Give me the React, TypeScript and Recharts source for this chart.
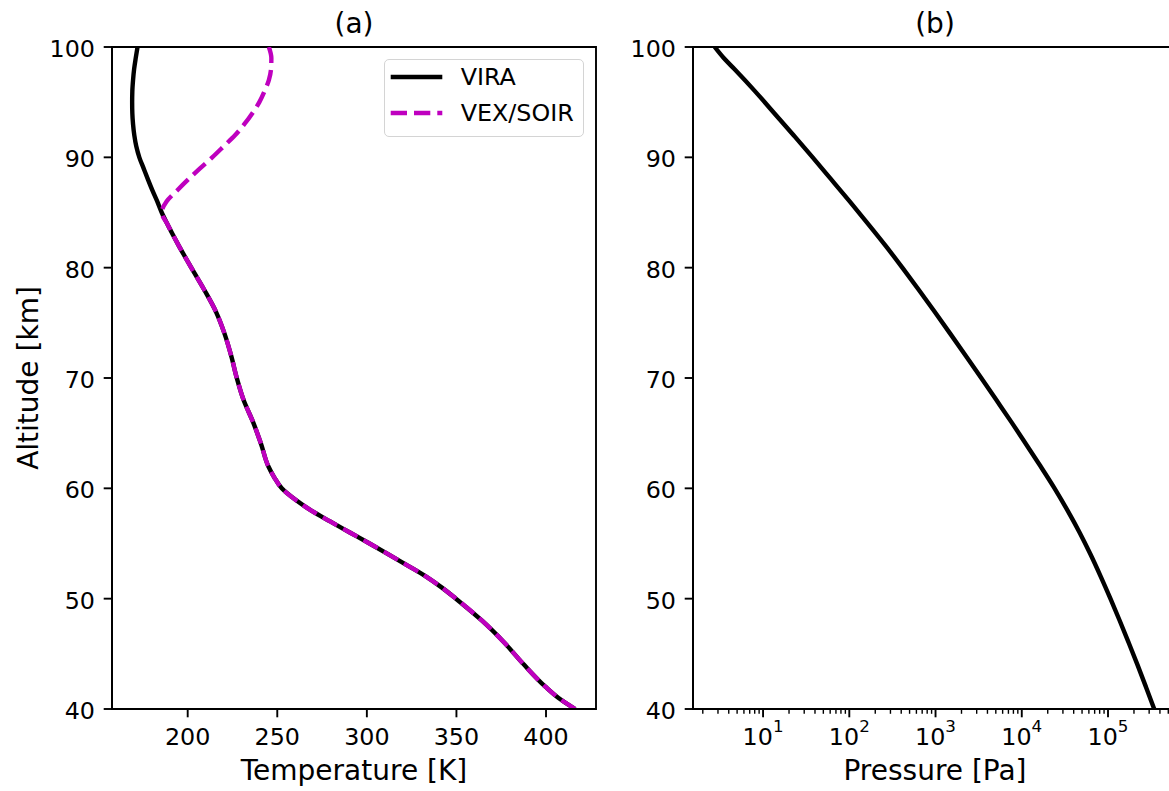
import { LineChart, Line, XAxis, YAxis, ReferenceArea, Legend } from 'recharts'

const FONT = '"DejaVu Sans", "Liberation Sans", sans-serif'
const TICK_FS = 23.8
const LABEL_FS = 28
const SPINE = 1.9
const LINE_W = 4.4
const MAGENTA = '#bf00bf'
const DASH = '16.3 7'

// altitude grid shared by both temperature profiles (km)
const ALT_KM = [
  40, 41, 42, 44, 46, 48, 50, 51, 52, 53, 54, 55, 56, 57, 58, 59, 60, 61, 62, 64, 66, 68, 70,
  72, 74, 76, 78, 80, 82, 84, 85, 86, 87, 88, 89, 90, 91, 92, 93, 94, 95, 96, 97, 98, 99, 100,
]
const VIRA_T = [
  416.3, 407, 399.8, 387.8, 376.8, 364.3, 349.7, 341.9, 333.1, 322.8, 312.3, 301.5, 290.5, 279.5, 268.8, 259.8, 252.5, 248.3, 245, 241, 236.5, 231.2, 227.4,
  224.3, 220.6, 215.8, 209.2, 202, 195, 188.5, 185.5, 183, 180.3, 177.8, 175.4, 173, 171.3, 170.2, 169.5, 169.1, 169, 169.1, 169.5, 170.1, 171, 172,
]
const VEX_T = [
  416.3, 407, 399.8, 387.8, 376.8, 364.3, 349.7, 341.9, 333.1, 322.8, 312.3, 301.5, 290.5, 279.5, 268.8, 259.8, 252.5, 248.3, 245, 241, 236.5, 231.2, 227.4,
  224.3, 220.6, 215.8, 209.2, 202, 195, 188.5, 185.5, 188.2, 194.1, 200.3, 206.9, 213.7, 220.1, 226.4, 231.6, 236.1, 240, 242.9, 245.3, 246.5, 246.7, 245.3,
]

const P_ALT_KM = [
  40, 42, 44, 46, 48, 50, 52, 54, 56, 58, 60, 62, 64, 66, 68, 70,
  72, 74, 76, 78, 80, 82, 84, 86, 88, 90, 92, 94, 96, 98, 99, 100,
]
const PRESSURE_PA = [
  343600, 275400, 219800, 173800, 136800, 106700, 82400, 62800, 46800, 33900, 24000, 16520, 11220, 7590, 5080, 3390,
  2250, 1486, 977, 638, 412, 263, 164, 101, 61.7, 37.6, 22.6, 13.5, 8.04, 4.65, 3.5, 2.75,
]

const ALT_TICKS = [40, 50, 60, 70, 80, 90, 100]
const T_TICKS = [200, 250, 300, 350, 400]
const P_MAJOR_TICKS = [10, 100, 1000, 10000, 100000]
const P_MINOR_TICKS = [
  2, 3, 4, 5, 6, 7, 8, 9,
  20, 30, 40, 50, 60, 70, 80, 90,
  200, 300, 400, 500, 600, 700, 800, 900,
  2000, 3000, 4000, 5000, 6000, 7000, 8000, 9000,
  20000, 30000, 40000, 50000, 60000, 70000, 80000, 90000,
  200000, 300000, 400000, 500000, 600000,
]

const T_DOMAIN: [number, number] = [157.75, 427.9]
const P_DOMAIN: [number, number] = [1.54, 631000]
const ALT_DOMAIN: [number, number] = [40, 100]

const VIRA_ROWS = ALT_KM.map((alt, i) => ({ alt, t: VIRA_T[i] }))
const VEX_ROWS = ALT_KM.map((alt, i) => ({ alt, t: VEX_T[i] }))
const P_ROWS = P_ALT_KM.map((alt, i) => ({ alt, p: PRESSURE_PA[i] }))
const P_TICKS = [...P_MAJOR_TICKS, ...P_MINOR_TICKS].sort((a, b) => a - b)

const LEGEND_ITEMS = [
  { name: 'VIRA', color: '#000', dash: undefined },
  { name: 'VEX/SOIR', color: MAGENTA, dash: DASH },
]

const AXIS_LINE = { stroke: '#000', strokeWidth: SPINE }
const TICK_LINE = { stroke: '#000', strokeWidth: SPINE }
const TEXT_STYLE = { fontFamily: FONT, fill: '#000' }

// eslint-disable-next-line @typescript-eslint/no-explicit-any
const AltTick = ({ x, y, payload }: any) => (
  <text x={x - 8.7} y={y + 10} textAnchor="end" fontSize={TICK_FS} {...TEXT_STYLE}>
    {payload.value}
  </text>
)

// eslint-disable-next-line @typescript-eslint/no-explicit-any
const TempTick = ({ x, y, payload }: any) => (
  <text x={x} y={y + 27.7} textAnchor="middle" fontSize={TICK_FS} {...TEXT_STYLE}>
    {payload.value}
  </text>
)

// log axis: long ticks + 10^n labels on decades, short unlabelled ticks between
// eslint-disable-next-line @typescript-eslint/no-explicit-any
const PressureTick = ({ x, y, payload }: any) => {
  const v = payload.value
  const major = P_MAJOR_TICKS.includes(v)
  return (
    <g>
      <line x1={x} x2={x} y1={y} y2={y + (major ? 8.3 : 4.8)} stroke="#000" strokeWidth={major ? SPINE : 1.4} />
      {major && (
        <text x={x} y={y + 36} textAnchor="middle" fontSize={TICK_FS} {...TEXT_STYLE}>
          10<tspan dy={-13} fontSize={16.7}>{Math.round(Math.log10(v))}</tspan>
        </text>
      )}
    </g>
  )
}

const renderAltitudeLabel = () => (
  <text x={38} y={378} transform="rotate(-90 38 378)" textAnchor="middle" fontSize={LABEL_FS} {...TEXT_STYLE}>
    Altitude [km]
  </text>
)

const LegendBox = () => (
  <div
    style={{
      position: 'relative', width: 200, height: 78, boxSizing: 'border-box',
      border: `${SPINE}px solid #d4d4d4`, borderRadius: 5, background: 'rgba(255,255,255,0.8)',
    }}
  >
    <svg width={200} height={78} style={{ position: 'absolute', left: -SPINE, top: -SPINE }}>
      {LEGEND_ITEMS.map((it, i) => (
        <g key={it.name}>
          <line x1={7.7} x2={59.3} y1={19 + 36 * i} y2={19 + 36 * i} stroke={it.color} strokeWidth={LINE_W} strokeDasharray={it.dash} />
          <text x={77.7} y={27.4 + 36 * i} fontSize={TICK_FS} {...TEXT_STYLE}>{it.name}</text>
        </g>
      ))}
    </svg>
  </div>
)

function TemperaturePanel() {
  return (
    <LineChart width={620} height={791} margin={{ top: 47, right: 24, bottom: 0, left: 0 }}>
      <XAxis
        dataKey="t" type="number" domain={T_DOMAIN} allowDataOverflow ticks={T_TICKS} interval={0}
        tick={TempTick} tickSize={8.3} tickMargin={0} tickLine={TICK_LINE} axisLine={AXIS_LINE} height={82}
        label={{ value: 'Temperature [K]', position: 'insideBottom', offset: 11, fontSize: LABEL_FS, ...TEXT_STYLE }}
      />
      <YAxis
        type="number" domain={ALT_DOMAIN} allowDataOverflow ticks={ALT_TICKS} interval={0}
        tick={AltTick} tickSize={8.3} tickMargin={0} tickLine={TICK_LINE} axisLine={AXIS_LINE} width={112}
        label={renderAltitudeLabel}
      />
      <Line data={VIRA_ROWS} dataKey="alt" name="VIRA" type="monotoneY" stroke="#000" strokeWidth={LINE_W}
        dot={false} activeDot={false} isAnimationActive={false} />
      <Line data={VEX_ROWS} dataKey="alt" name="VEX/SOIR" type="monotoneY" stroke={MAGENTA} strokeWidth={LINE_W}
        strokeDasharray={DASH} dot={false} activeDot={false} isAnimationActive={false} />
      <ReferenceArea
        x1={T_DOMAIN[0]} x2={T_DOMAIN[1]} y1={ALT_DOMAIN[0]} y2={ALT_DOMAIN[1]}
        fill="none" stroke="#000" strokeWidth={SPINE}
        label={{ value: '(a)', position: 'top', offset: 14.5, fontSize: LABEL_FS, ...TEXT_STYLE }}
      />
      <Legend
        layout="vertical" align="center" verticalAlign="middle"
        wrapperStyle={{ left: 384, top: 59, width: 200, height: 78 }}
        content={() => <LegendBox />}
      />
    </LineChart>
  )
}

function PressurePanel() {
  return (
    <LineChart width={577} height={791} margin={{ top: 47, right: 10, bottom: 0, left: 0 }}>
      <XAxis
        dataKey="p" type="number" scale="log" domain={P_DOMAIN} allowDataOverflow ticks={P_TICKS} interval={0}
        tick={PressureTick} tickSize={0} tickMargin={0} tickLine={false} axisLine={AXIS_LINE} height={82}
        label={{ value: 'Pressure [Pa]', position: 'insideBottom', offset: 11, fontSize: LABEL_FS, ...TEXT_STYLE }}
      />
      <YAxis
        type="number" domain={ALT_DOMAIN} allowDataOverflow ticks={ALT_TICKS} interval={0}
        tick={AltTick} tickSize={8.3} tickMargin={0} tickLine={TICK_LINE} axisLine={AXIS_LINE} width={83}
      />
      <Line data={P_ROWS} dataKey="alt" name="pressure" type="monotoneY" stroke="#000" strokeWidth={LINE_W}
        dot={false} activeDot={false} isAnimationActive={false} />
      <ReferenceArea
        x1={P_DOMAIN[0]} x2={P_DOMAIN[1]} y1={ALT_DOMAIN[0]} y2={ALT_DOMAIN[1]}
        fill="none" stroke="#000" strokeWidth={SPINE}
        label={{ value: '(b)', position: 'top', offset: 14.5, fontSize: LABEL_FS, ...TEXT_STYLE }}
      />
    </LineChart>
  )
}

export default function App() {
  return (
    <div style={{ position: 'absolute', left: 0, top: 0, width: 1169, height: 791, overflow: 'hidden', background: '#fff', fontFamily: FONT }}>
      <div style={{ position: 'absolute', left: 0, top: 0 }}>
        <TemperaturePanel />
      </div>
      <div style={{ position: 'absolute', left: 610, top: 0 }}>
        <PressurePanel />
      </div>
    </div>
  )
}
